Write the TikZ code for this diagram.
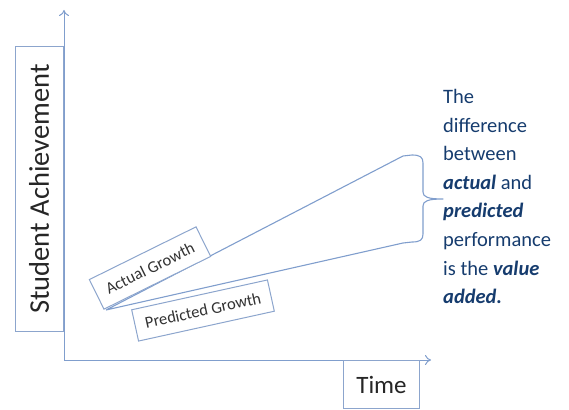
\documentclass[tikz,border=0pt]{standalone}
\usepackage{fontspec}
\setmainfont{Carlito}
\usetikzlibrary{arrows.meta}
\definecolor{lineblue}{RGB}{128,158,205}
\definecolor{boxblue}{RGB}{140,165,205}
\definecolor{navy}{RGB}{22,60,110}
\definecolor{labelgrey}{RGB}{50,50,50}
\begin{document}
\begin{tikzpicture}[x=1pt,y=-1pt,
  axis/.style={draw=lineblue,line width=1pt,-{To[length=6pt,width=10pt]}},
  growth/.style={draw=lineblue,line width=1.1pt,line join=round},
  labelbox/.style={draw=boxblue,line width=1pt,fill=white,inner sep=0pt,text=labelgrey},
  note/.style={text=navy,font=\fontsize{20.5}{28.6}\selectfont,align=left,anchor=north west,inner sep=0pt}]
\useasboundingbox (0,0) rectangle (569,409);
% axes
\coordinate (O) at (64,360);
\coordinate (ytop) at (64,10);
\coordinate (xend) at (431,360);
\draw[axis] (O) -- (ytop);
\draw[axis] (O) -- (xend);
% axis labels
\node[labelbox,rotate=90,minimum width=284pt,minimum height=48pt,text=black!85,font=\fontsize{28.5}{30}\selectfont] (ylab) at (39,189) {Student Achievement};
\node[labelbox,minimum width=76pt,minimum height=48pt,anchor=north west,text=black!85,font=\fontsize{25}{27}\selectfont] (time) at (343,360) {Time};
% growth lines with brace
\coordinate (start) at (106,310);
\coordinate (aend) at (403,156);
\coordinate (pend) at (403,243);
\coordinate (tip) at (443,199);
\draw[growth] (start) -- (aend) -- (412,155) .. controls (420,155) and (423,157) .. (423,163)
  -- (423,192) .. controls (423,197) and (428,199) .. (tip)
  .. controls (428,199) and (423,201) .. (423,206)
  -- (423,234) .. controls (423,240) and (420,242) .. (412,242) -- (pend) -- (start);
% growth labels
\node[labelbox,rotate=26.3,minimum width=119pt,minimum height=33pt,font=\fontsize{16.5}{18}\selectfont] (actual) at (150,268) {Actual Growth};
\node[labelbox,rotate=12.4,minimum width=139pt,minimum height=32pt,font=\fontsize{16.5}{18}\selectfont] (pred) at (203,310.5) {Predicted Growth};
% note
\node[note] (txt) at (443,89) {The\\difference\\between\\\textbf{\textit{actual}} and\\\textbf{\textit{predicted}}\\performance\\is the \textbf{\textit{value}}\\\textbf{\textit{added.}}};
\end{tikzpicture}
\end{document}
